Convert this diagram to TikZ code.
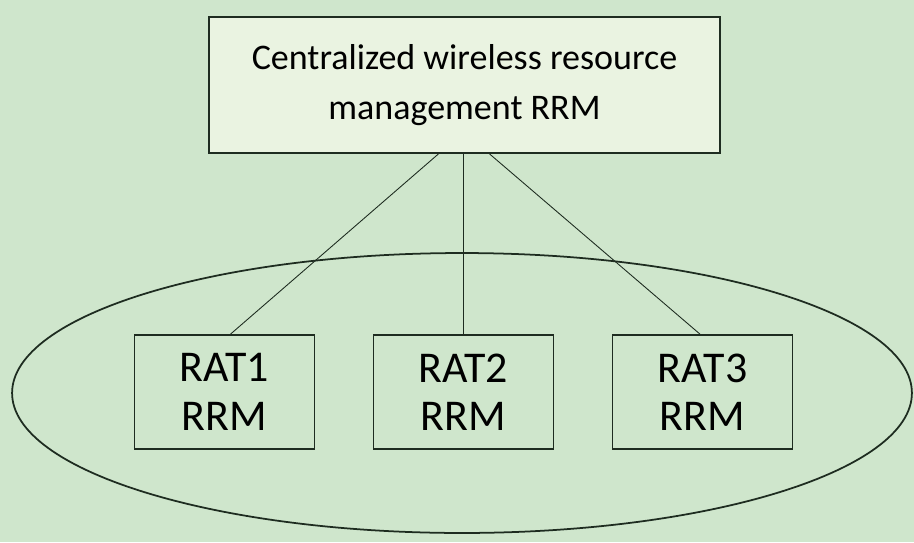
\documentclass[tikz,border=0pt]{standalone}
\usepackage{fontspec}
\setmainfont{Carlito}
\usetikzlibrary{shapes.geometric}

\definecolor{paleg}{RGB}{207,230,204}
\definecolor{boxg}{RGB}{234,243,225}
\definecolor{inkg}{RGB}{30,44,32}

\tikzset{
    rrmbox/.style = {draw = inkg, line width = 1pt, inner sep = 0pt},
    ratbox/.style = {rrmbox, minimum width = 3.6cm, minimum height = 2.28cm,
                     align = center, font = \fontsize{25}{27.5}\selectfont},
    link/.style   = {draw = inkg, line width = 0.5pt}
}

\begin{document}
\begin{tikzpicture}[x=0.02cm, y=-0.02cm]
                \fill[paleg] (0,0) rectangle (914,542);
                \useasboundingbox (0,0) rectangle (914,542);
                \node[draw = inkg, line width = 1pt, ellipse, minimum width = 18cm, minimum height = 5.6cm] (group) at (462,393) {};
                \node[rrmbox, fill = boxg, minimum width = 10.22cm, minimum height = 2.72cm, align = center,
                      font = \fontsize{20.5}{28.5}\selectfont] (crrm) at (464.5,85) {Centralized wireless resource\\management RRM};
                \node[ratbox] (rat1) at (224.5,392) {RAT1\\RRM};
                \node[ratbox] (rat2) at (463.5,392) {RAT2\\RRM};
                \node[ratbox] (rat3) at (702.5,392) {RAT3\\RRM};
                \draw[link] ([xshift=-0.52cm]crrm.south) -- ([xshift=0.12cm]rat1.north);
                \draw[link] (crrm.south -| rat2.north) -- (rat2.north);
                \draw[link] ([xshift=0.5cm]crrm.south) -- ([xshift=-0.05cm]rat3.north);
            \end{tikzpicture}
\end{document}
